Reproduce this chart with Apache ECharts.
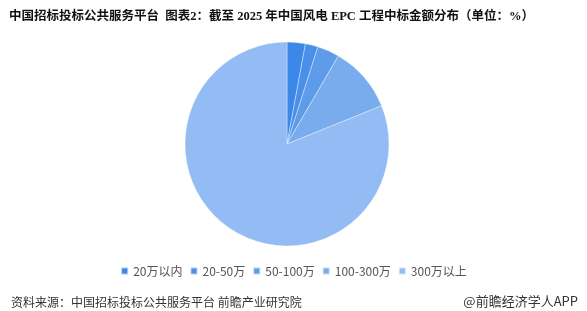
<!DOCTYPE html>
<html><head><meta charset="utf-8">
<script src="https://cdn.jsdelivr.net/npm/echarts@6/dist/echarts.min.js"></script>
<style>html,body{margin:0;padding:0;background:#fff}#c{width:587px;height:311px}</style>
</head><body><div id="c"></div>
<script>
const categories = ['20万以内', '20-50万', '50-100万', '100-300万', '300万以上'];
const values = [2.9, 2.0, 3.5, 10.5, 81.1];
const colors = ['#3b88e8', '#4a90e8', '#5e9cea', '#78aced', '#92bcf3'];
const titleText = '中国招标投标公共服务平台  图表2：截至 2025 年中国风电 EPC 工程中标金额分布（单位：%）';
const sourceText = '资料来源：中国招标投标公共服务平台 前瞻产业研究院';
const brandText = '@前瞻经济学人APP';

const chart = echarts.init(document.getElementById('c'));
chart.setOption({
  animation: false,
  color: colors,
  title: [
    {text: titleText, left: 4, top: 6, textStyle: {fontSize: 12.5, fontWeight: 'bold', color: '#111', fontFamily: '"Liberation Serif","Noto Sans CJK SC",serif'}},
    {text: sourceText, left: 6, top: 291, textStyle: {fontSize: 12, fontWeight: 'normal', color: '#333', fontFamily: '"Noto Sans CJK SC",sans-serif'}},
    {text: brandText, right: 4, top: 290, textStyle: {fontSize: 13, fontWeight: 'normal', color: '#333', fontFamily: '"Noto Sans CJK SC",sans-serif'}}
  ],
  legend: {
    data: categories, bottom: 29, left: 'center', itemWidth: 7, itemHeight: 7, itemGap: 7,
    icon: 'rect',
    textStyle: {fontSize: 12, color: '#555', fontFamily: '"Noto Sans CJK SC",sans-serif'}
  },
  series: [{
    type: 'pie', center: [287, 144], radius: [0, 102], startAngle: 90, clockwise: true,
    label: {show: false}, labelLine: {show: false},
    itemStyle: {borderColor: 'rgba(255,255,255,0.6)', borderWidth: 0.6},
    emphasis: {disabled: true},
    data: categories.map((n, i) => ({name: n, value: values[i]}))
  }]
});
</script></body></html>
